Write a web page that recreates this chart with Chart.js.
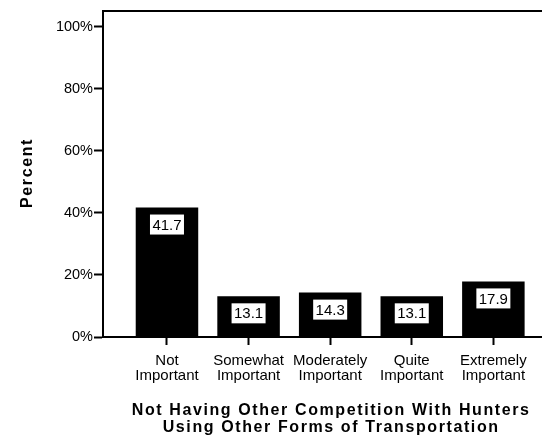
<!DOCTYPE html>
<html>
<head>
<meta charset="utf-8">
<script src="https://cdn.jsdelivr.net/npm/chart.js@4.4.0/dist/chart.umd.min.js"></script>
<style>
html, body { margin: 0; padding: 0; background: #fff; }
canvas { display: block; }
</style>
</head>
<body>
<canvas id="myChart" width="542" height="439"></canvas>
<script>
var categories = [['Not', 'Important'], ['Somewhat', 'Important'], ['Moderately', 'Important'], ['Quite', 'Important'], ['Extremely', 'Important']];
var percents = [41.7, 13.1, 14.3, 13.1, 17.9];
var yTicks = [0, 20, 40, 60, 80, 100];
var xTitle = ['Not Having Other Competition With Hunters', 'Using Other Forms of Transportation'];
var yTitle = 'Percent';

var FONT = '"Liberation Sans", Arial, sans-serif';

// top frame line + axis titles (letter-spaced like the original)
var frameAndTitles = {
    id: 'frameAndTitles',
    afterDraw: function(chart) {
        var c = chart.ctx, a = chart.chartArea;
        c.save();
        c.strokeStyle = '#000';
        c.lineWidth = 2;
        c.beginPath();
        c.moveTo(a.left - 1, a.top);
        c.lineTo(a.right, a.top);
        c.stroke();

        c.fillStyle = '#000';
        c.font = 'bold 16px ' + FONT;
        c.letterSpacing = '1.6px';
        c.textAlign = 'center';
        c.textBaseline = 'middle';
        var cx = chart.scales.x.getPixelForValue(2) + 1;
        c.fillText(xTitle[0], cx, 411);
        c.fillText(xTitle[1], cx, 428);

        c.translate(28, (a.top + a.bottom) / 2);
        c.rotate(-Math.PI / 2);
        c.fillText(yTitle, 1, 0);
        c.restore();
    }
};

// white value boxes inside the bars
var barLabels = {
    id: 'barLabels',
    afterDatasetsDraw: function(chart) {
        var c = chart.ctx;
        var meta = chart.getDatasetMeta(0);
        c.save();
        c.font = '15px ' + FONT;
        c.textAlign = 'center';
        c.textBaseline = 'middle';
        meta.data.forEach(function(bar, i) {
            var cy = bar.y + 17;
            c.fillStyle = '#fff';
            c.fillRect(bar.x - 17, cy - 10, 34, 20);
            c.fillStyle = '#000';
            c.fillText(percents[i].toFixed(1), bar.x, cy + 1);
        });
        c.restore();
    }
};

const ctx = document.getElementById('myChart');

new Chart(ctx, {
    type: 'bar',
    data: {
        datasets: [{
            data: percents.map(function(v, i) { return { x: i, y: v }; }),
            backgroundColor: '#000',
            borderWidth: 0,
            barPercentage: 0.766,
            categoryPercentage: 1
        }]
    },
    options: {
        responsive: false,
        animation: false,
        layout: { padding: { top: 11, left: 0, right: 0, bottom: 0 } },
        plugins: {
            legend: { display: false },
            tooltip: { enabled: false }
        },
        scales: {
            x: {
                type: 'linear',
                offset: false,
                min: -0.784,
                max: 4.596,
                afterBuildTicks: function(scale) {
                    scale.ticks = categories.map(function(_, i) { return { value: i }; });
                },
                afterFit: function(scale) { scale.height = 102; },
                ticks: {
                    callback: function(v) { return categories[v]; },
                    color: '#000',
                    font: { family: FONT, size: 15, lineHeight: 1 },
                    padding: 8,
                    maxRotation: 0,
                    autoSkip: false
                },
                grid: { offset: false, drawOnChartArea: false, tickLength: 8, tickWidth: 2, tickColor: '#000' },
                border: { color: '#000', width: 2 }
            },
            y: {
                min: 0,
                max: 105,
                afterBuildTicks: function(scale) {
                    scale.ticks = yTicks.map(function(v) { return { value: v }; });
                },
                afterFit: function(scale) { scale.width = 103; },
                ticks: {
                    callback: function(v) { return v + '%'; },
                    color: '#000',
                    font: { family: FONT, size: 14.5 },
                    padding: 1
                },
                grid: { drawOnChartArea: false, tickLength: 9, tickWidth: 2, tickColor: '#000' },
                border: { color: '#000', width: 2 }
            }
        }
    },
    plugins: [frameAndTitles, barLabels]
});
</script>
</body>
</html>
